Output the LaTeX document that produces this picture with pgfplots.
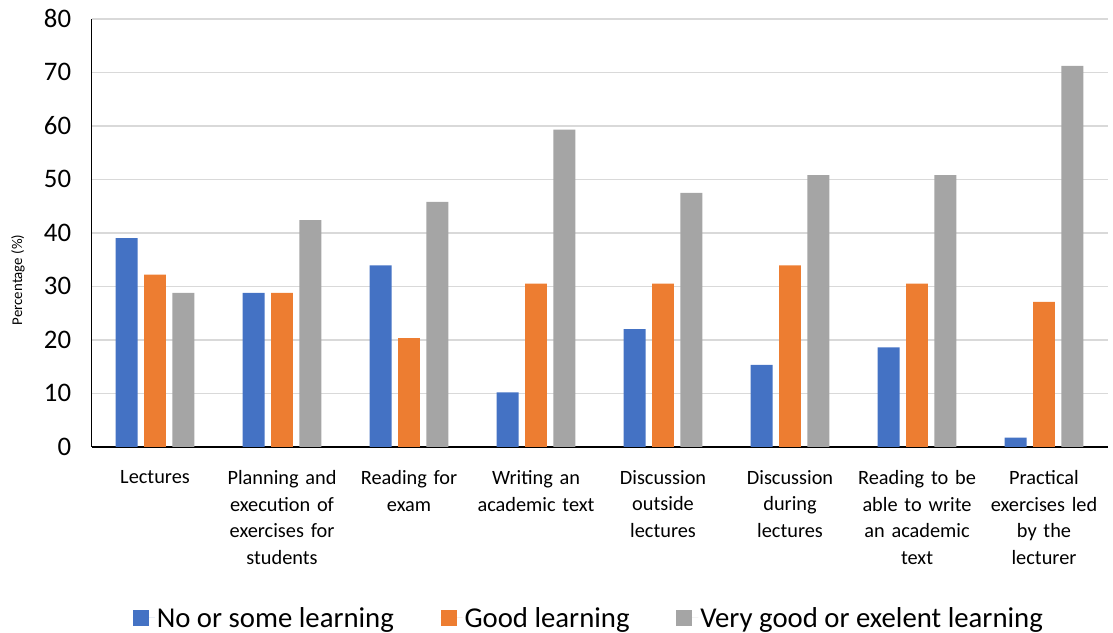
\documentclass[border=0pt]{standalone}
\usepackage{pgfplots}
\pgfplotsset{compat=1.18}
\usepackage{fontspec}
\setmainfont{Carlito}
\definecolor{cblue}{HTML}{4472C4}
\definecolor{corange}{HTML}{ED7D31}
\definecolor{cgray}{HTML}{A5A5A5}
\definecolor{cgrid}{HTML}{D9D9D9}
\begin{document}
\begin{tikzpicture}
\begin{axis}[
  scale only axis,
  width=1021bp, height=430bp,
  ybar=6.5bp, bar width=22bp,
  xmin=-0.5, xmax=7.5,
  ymin=0, ymax=80,
  ytick={0,10,...,80},
  xtick=data,
  xticklabels={Lectures,
    {Planning and\\execution of\\exercises for\\students},
    {Reading for\\exam},
    {Writing an\\academic text},
    {Discussion\\outside\\lectures},
    {Discussion\\during\\lectures},
    {Reading to be\\able to write\\an academic\\text},
    {Practical\\exercises led\\by the\\lecturer}},
  x tick label style={font=\fontsize{20.5}{27}\selectfont, align=center, text width=132bp, anchor=north, yshift=-20bp},
  y tick label style={font=\fontsize{27}{30}\selectfont},
  /pgf/number format/assume math mode=true,
  major tick length=0pt,
  yticklabel style={xshift=-17bp},
  axis x line*=bottom, axis y line*=left,
  axis line style={black, line width=1.6bp, -},
  ymajorgrids, grid style={cgrid, line width=1.4bp},
  ylabel={Percentage (\%)},
  ylabel style={font=\fontsize{15}{18}\selectfont, at={(axis description cs:-0.0725,0.39)}, anchor=center},
  legend style={at={(axis description cs:0.4895,-0.4)}, anchor=center, draw=none,
    font=\fontsize{29}{32}\selectfont, legend columns=-1,
    /tikz/every even column/.append style={column sep=45bp}},
  legend image code/.code={\fill[#1] (0bp,-8bp) rectangle (16bp,8bp); \path (0bp,0bp) -- (22bp,0bp);},
]
\addplot[fill=cblue, draw=none] coordinates {(0,39.0) (1,28.8) (2,33.9) (3,10.2) (4,22.0) (5,15.3) (6,18.6) (7,1.7)};
\addplot[fill=corange, draw=none] coordinates {(0,32.2) (1,28.8) (2,20.3) (3,30.5) (4,30.5) (5,33.9) (6,30.5) (7,27.1)};
\addplot[fill=cgray, draw=none] coordinates {(0,28.8) (1,42.4) (2,45.8) (3,59.3) (4,47.5) (5,50.8) (6,50.8) (7,71.2)};
\legend{No or some learning, Good learning, Very good or exelent learning}
\end{axis}
\path (current axis.south west) ++(-92bp,-185bp) rectangle ++(1113bp,634bp);
\end{tikzpicture}
\end{document}
